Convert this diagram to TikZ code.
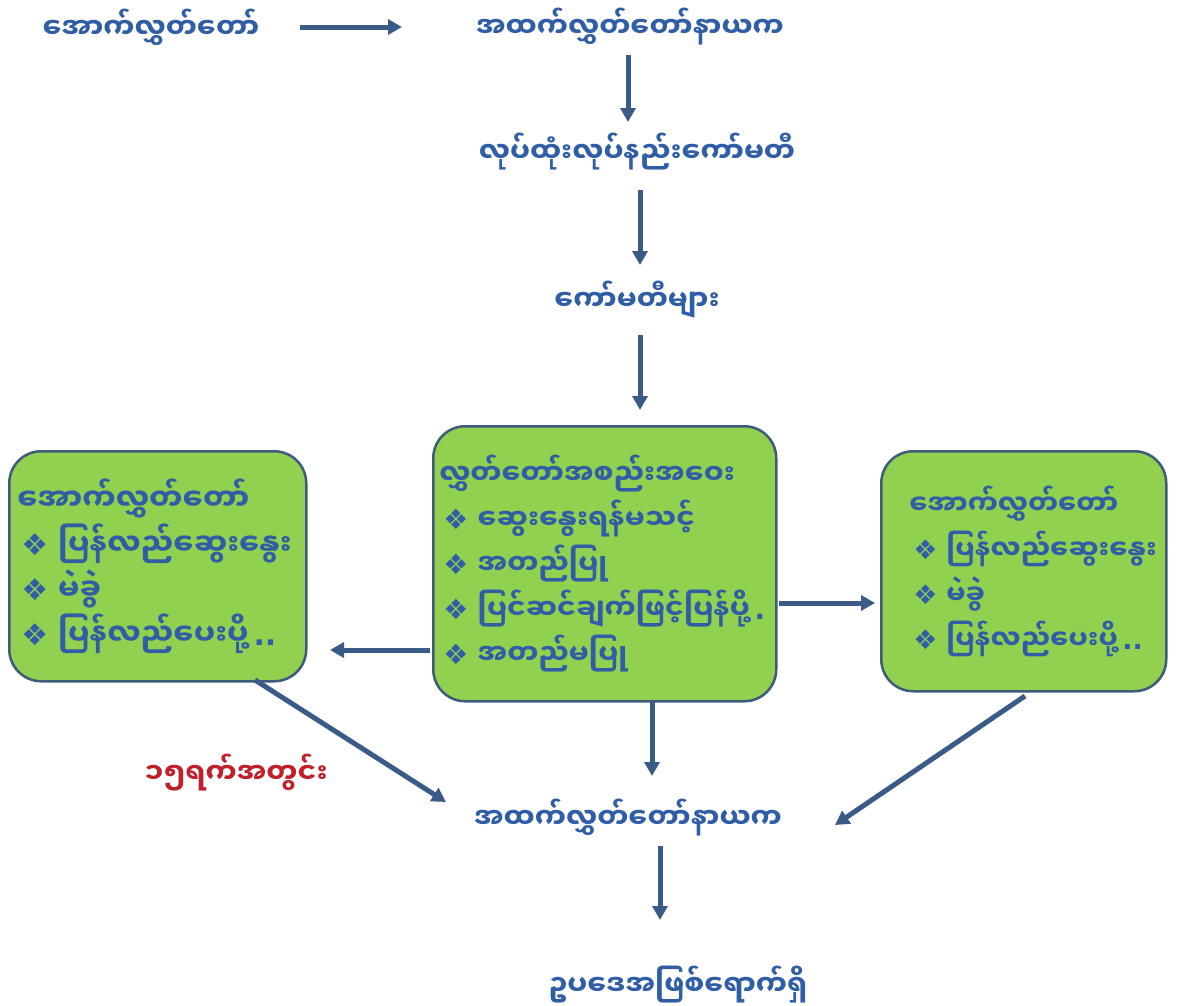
\documentclass[tikz,border=0pt]{standalone}
\usepackage{fontspec}
\usetikzlibrary{arrows.meta}
\newfontfamily\mya[Script=Myanmar]{Noto Sans Myanmar UI}
\newfontfamily\symfont{DejaVu Sans}
\definecolor{txtblue}{HTML}{2F5DA6}
\definecolor{arrblue}{HTML}{3A5A88}
\definecolor{boxgreen}{HTML}{92D050}
\definecolor{boxline}{HTML}{3E5C7A}
\definecolor{txtred}{HTML}{C0202A}
\newcommand{\bul}{\hspace*{4pt}{\symfont\char"2756}~}
\newcommand{\symdots}[1]{{\symfont\,#1}}

\begin{document}
\begin{tikzpicture}[x=1pt, y=-1pt,
    lbl/.style={font=\mya\bfseries\fontsize{28}{32}\selectfont, text=txtblue, inner sep=0pt},
    arr/.style={draw=arrblue, line width=5pt, -{Triangle[length=14pt,width=15pt]}},
    card/.style={draw=boxline, line width=2.5pt, fill=boxgreen, rounded corners=32pt,
        anchor=north west, align=left, inner ysep=8pt, text=txtblue,
        font=\mya\bfseries\fontsize{30}{45}\selectfont}]
    \useasboundingbox (0,0) rectangle (1179,1005);

    % top row
    \node[lbl] (lowerhouse) at (151,27) {အောက်လွှတ်တော်};
    \node[lbl] (speaker) at (630,27) {အထက်လွှတ်တော်နာယက};
    \draw[arr] (300,27) -- (402,27);

    % committees
    \node[lbl] (procedure) at (637,152) {လုပ်ထုံးလုပ်နည်းကော်မတီ};
    \node[lbl] (committees) at (637,300) {ကော်မတီများ};
    \draw[arr] (628,55) -- (628,122);
    \draw[arr] (640,190) -- (640,265);
    \draw[arr] (640,335) -- (640,410);

    % boxes
    \node[card, minimum width=343, minimum height=275, inner xsep=6pt, text width=331,
        font=\mya\bfseries\fontsize{28}{45}\selectfont] (session) at (432,425)
        {လွှတ်တော်အစည်းအဝေး\\
         \bul ဆွေးနွေးရန်မသင့်\\
         \bul အတည်ပြု\\
         \bul ပြင်ဆင်ချက်ဖြင့်ပြန်ပို့\symdots{.}\\
         \bul အတည်မပြု};
    \node[card, minimum width=297, minimum height=230, inner xsep=8pt, text width=281] (leftbox) at (8,450)
        {အောက်လွှတ်တော်\\
         \bul ပြန်လည်ဆွေးနွေး\\
         \bul မဲခွဲ\\
         \bul ပြန်လည်ပေးပို့\symdots{..}\\[-8pt]};
    \node[card, minimum width=285, minimum height=240, inner xsep=28pt, text width=229,
        font=\mya\bfseries\fontsize{27}{45}\selectfont] (rightbox) at (880,450)
        {အောက်လွှတ်တော်\\
         \bul ပြန်လည်ဆွေးနွေး\\
         \bul မဲခွဲ\\
         \bul ပြန်လည်ပေးပို့\symdots{..}};
    \draw[arr] (430,650) -- (330,650);
    \draw[arr] (779,603) -- (875,603);

    % back to the speaker
    \node[lbl, text=txtred] (days) at (236,773) {၁၅ရက်အတွင်း};
    \node[lbl] (speaker2) at (628,818) {အထက်လွှတ်တော်နာယက};
    \draw[arr] (652,702) -- (652,776);
    \draw[arr] (255,680) -- (446,802);
    \draw[arr] (1025,696) -- (835,825);

    % result
    \node[lbl] (law) at (678,985) {ဥပဒေအဖြစ်ရောက်ရှိ};
    \draw[arr] (660,846) -- (660,920);
\end{tikzpicture}
\end{document}
